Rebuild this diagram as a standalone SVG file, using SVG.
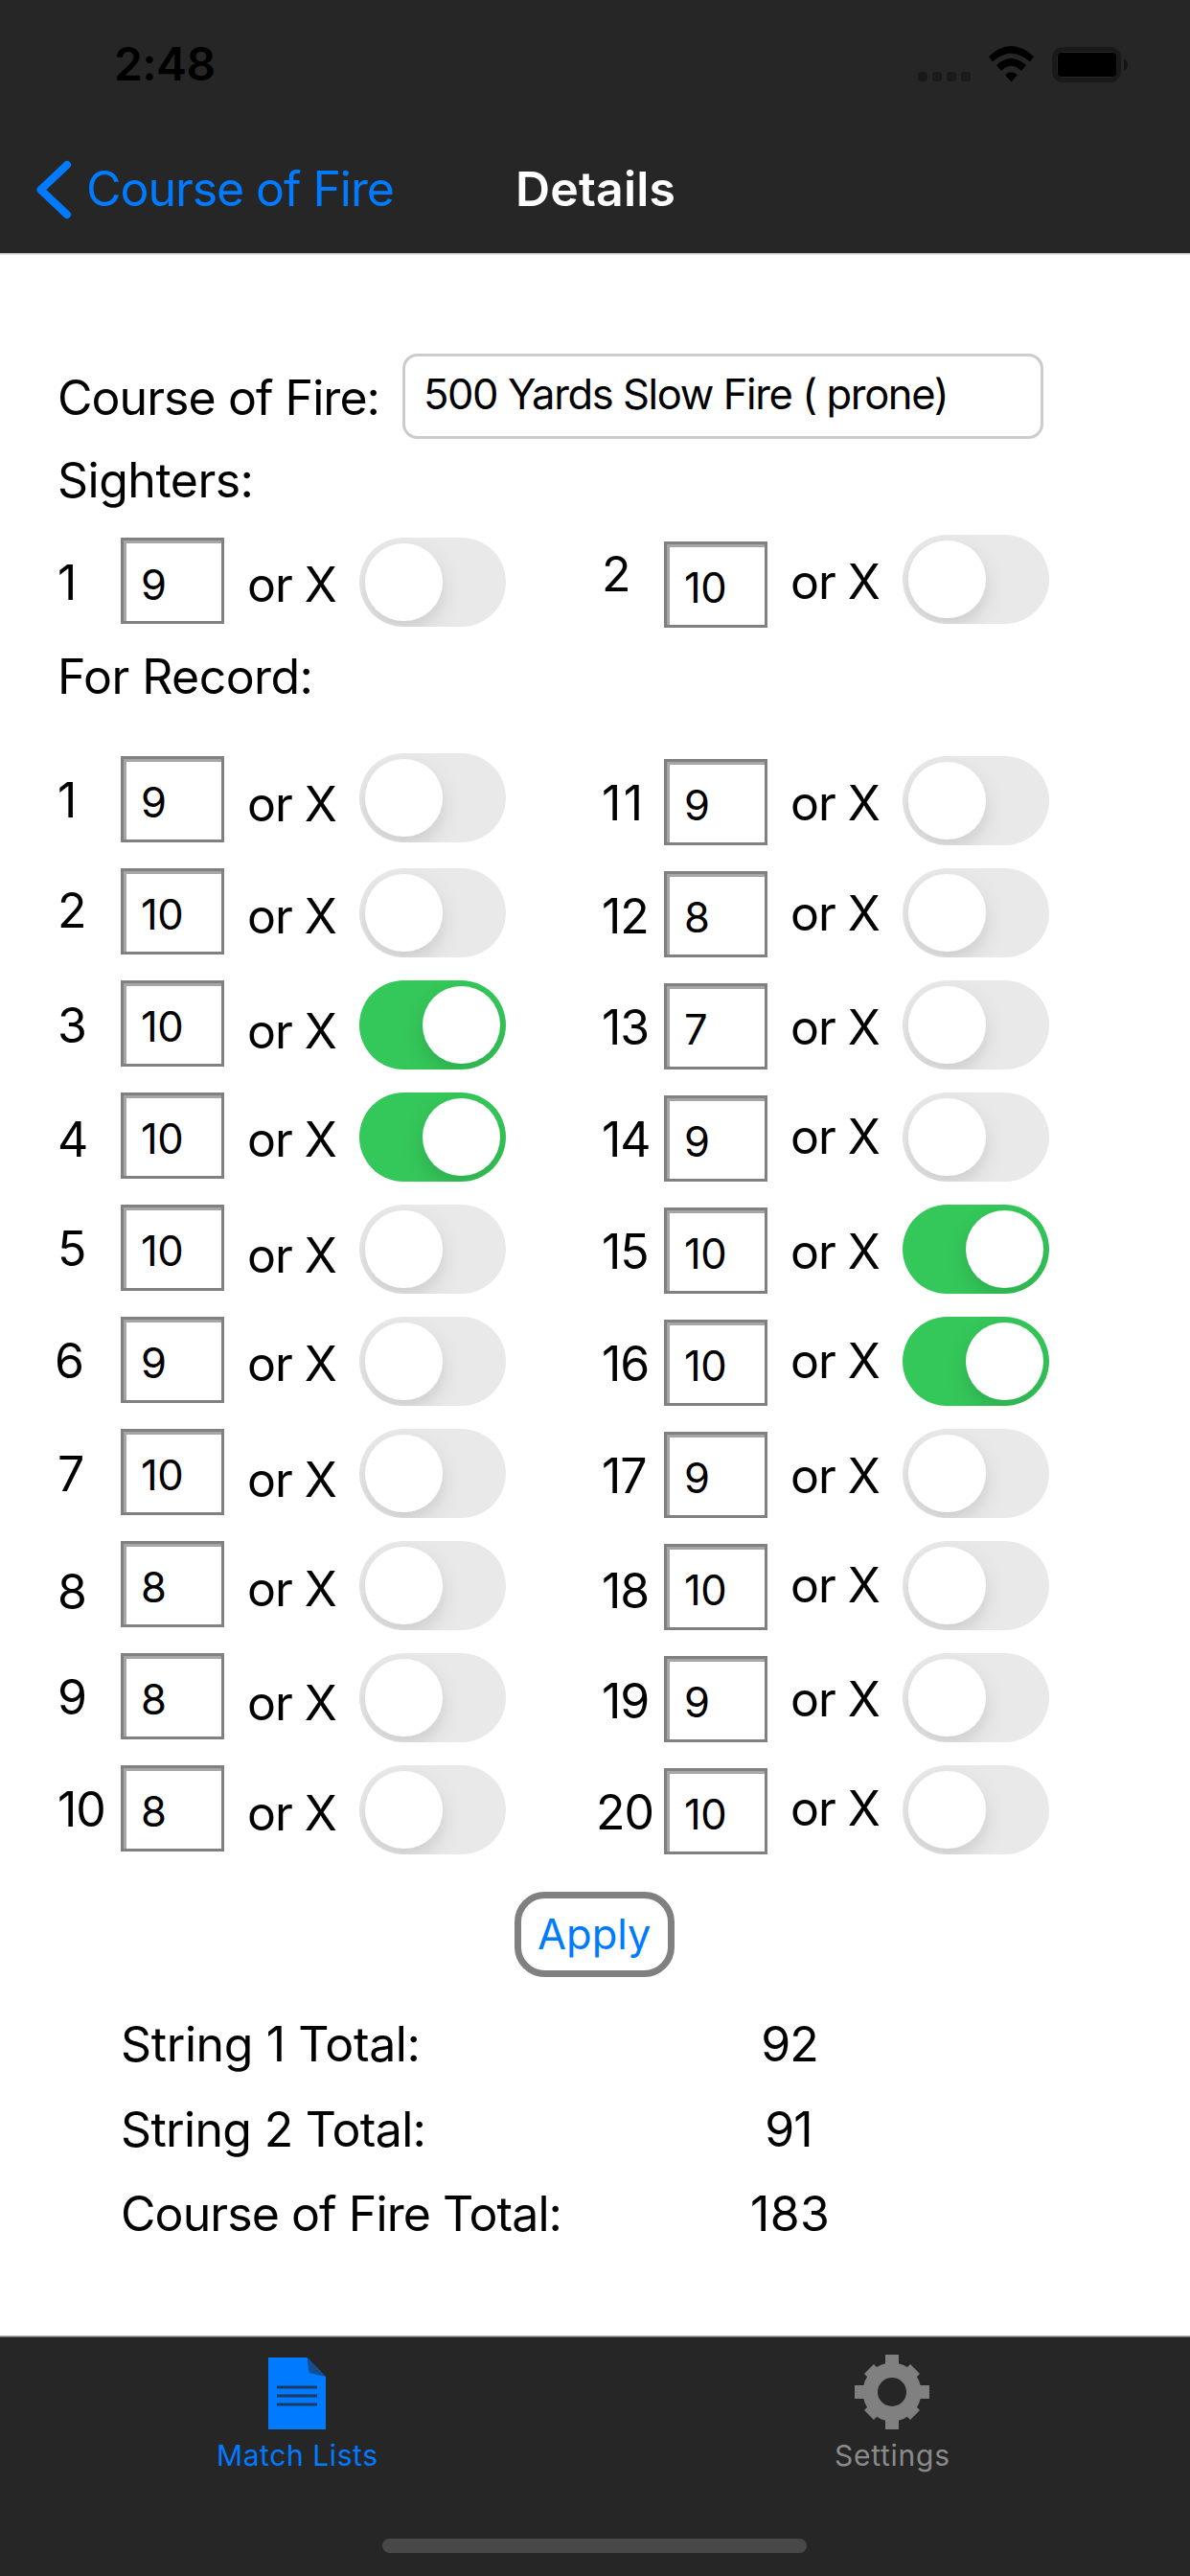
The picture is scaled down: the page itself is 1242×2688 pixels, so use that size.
<svg xmlns="http://www.w3.org/2000/svg" xmlns:xlink="http://www.w3.org/1999/xlink" width="1242" height="2688" viewBox="0 0 1242 2688">
<style>
text{font-family:Inter,"Liberation Sans",sans-serif;fill:#000}
.bar{fill:#262626}
.t{font-size:50px;letter-spacing:-1px}
.v{font-size:43.5px;letter-spacing:-.5px}
.blue{fill:#007aff}
.tab{font-size:30px;text-anchor:middle}
.m{text-anchor:middle}
.off{fill:#e9e9e9}
.on{fill:#34c759}
.knob{fill:#fff;filter:url(#ks)}
</style>
<defs>
<filter id="ks" x="-40%" y="-40%" width="180%" height="180%"><feDropShadow dx="0" dy="9" stdDeviation="10" flood-color="#000" flood-opacity=".13"/></filter>
<clipPath id="tc"><rect width="153" height="93" rx="46.5"/></clipPath>
<g id="frame">
<rect width="108" height="90" fill="#808080"/>
<path d="M3 3H105V6H6V87H3Z" fill="#a6a6a6"/>
<rect x="6" y="6" width="99" height="81" fill="#fff"/>
</g>
<g id="sw0"><rect class="off" width="153" height="93" rx="46.5"/><g clip-path="url(#tc)"><circle class="knob" cx="46.5" cy="46.5" r="40.5"/></g></g>
<g id="sw1"><rect class="on" width="153" height="93" rx="46.5"/><g clip-path="url(#tc)"><circle class="knob" cx="106.5" cy="46.5" r="40.5"/></g></g>
</defs>
<rect width="1242" height="2688" fill="#fff"/>
<g id="nav-bar">
<rect class="bar" width="1242" height="264"/>
<rect y="264" width="1242" height="1.5" fill="#bdbdbd"/>
<text x="119" y="84" font-size="48" font-weight="600" letter-spacing="-.6">2:48</text>
<g fill="#1a1a1a"><rect x="958" y="75" width="10" height="10" rx="3.5"/><rect x="973" y="75" width="10" height="10" rx="3.5"/><rect x="988" y="75" width="10" height="10" rx="3.5"/><rect x="1003" y="75" width="10" height="10" rx="3.5"/></g>
<g id="wifi" fill="#000">
<path d="M1032 59Q1055 37 1079 59L1075 64.500Q1055 47 1036 64.500Z"/>
<path d="M1040 68Q1055 54 1071 68L1066 74Q1055 63.500 1045 74Z"/>
<path d="M1049 78Q1055 72.500 1062 78L1055.500 85.500Z"/>
</g>
<g id="battery"><rect x="1100.500" y="51.500" width="67" height="32" rx="9" fill="none" stroke="#191919" stroke-width="5"/><rect x="1104" y="55" width="61" height="25" rx="4" fill="#000"/><path d="M1173 61Q1181 67.500 1173 74Z" fill="#141414"/></g>
<path d="M70 172L42.500 198L70 224" fill="none" stroke="#007aff" stroke-width="8" stroke-linecap="round" stroke-linejoin="round"/>
<text class="t blue" x="90" y="215" textLength="321">Course of Fire</text>
<text class="t" x="538" y="215" font-weight="600" style="fill:#fff" textLength="166">Details</text>
</g>
<g id="header">
<text class="t" x="60" y="433" textLength="336">Course of Fire:</text>
<rect x="421.500" y="370.500" width="666" height="86" rx="14" fill="#fff" stroke="#cccccc" stroke-width="3"/>
<text class="v" x="442" y="427" textLength="548">500 Yards Slow Fire ( prone)</text>
<text class="t" x="60" y="519" textLength="204">Sighters:</text>
<text class="t" x="60" y="724" textLength="266">For Record:</text>
</g>
<g id="sighter-1"><text class="t" x="60" y="626">1</text><use href="#frame" x="126" y="561"/><text class="v" x="147" y="626">9</text><text class="t" x="258" y="628">or X</text><use href="#sw0" x="375" y="561"/></g>
<g id="sighter-2"><text class="t" x="628" y="617">2</text><use href="#frame" x="693" y="565"/><text class="v" x="714" y="629">10</text><text class="t" x="825" y="625">or X</text><use href="#sw0" x="942" y="558"/></g>
<g id="shot-1"><text class="t" x="60" y="853">1</text><use href="#frame" x="126" y="789"/><text class="v" x="147" y="853">9</text><text class="t" x="258" y="857">or X</text><use href="#sw0" x="375" y="786"/></g>
<g id="shot-2"><text class="t" x="60" y="968">2</text><use href="#frame" x="126" y="906"/><text class="v" x="147" y="970">10</text><text class="t" x="258" y="974">or X</text><use href="#sw0" x="375" y="906"/></g>
<g id="shot-3"><text class="t" x="60" y="1088">3</text><use href="#frame" x="126" y="1023"/><text class="v" x="147" y="1087">10</text><text class="t" x="258" y="1094">or X</text><use href="#sw1" x="375" y="1023"/></g>
<g id="shot-4"><text class="t" x="60" y="1207">4</text><use href="#frame" x="126" y="1140"/><text class="v" x="147" y="1204">10</text><text class="t" x="258" y="1207">or X</text><use href="#sw1" x="375" y="1140"/></g>
<g id="shot-5"><text class="t" x="60" y="1321">5</text><use href="#frame" x="126" y="1257"/><text class="v" x="147" y="1321">10</text><text class="t" x="258" y="1328">or X</text><use href="#sw0" x="375" y="1257"/></g>
<g id="shot-6"><text class="t" x="57" y="1438">6</text><use href="#frame" x="126" y="1374"/><text class="v" x="147" y="1438">9</text><text class="t" x="258" y="1441">or X</text><use href="#sw0" x="375" y="1374"/></g>
<g id="shot-7"><text class="t" x="60" y="1556">7</text><use href="#frame" x="126" y="1491"/><text class="v" x="147" y="1555">10</text><text class="t" x="258" y="1562">or X</text><use href="#sw0" x="375" y="1491"/></g>
<g id="shot-8"><text class="t" x="60" y="1679">8</text><use href="#frame" x="126" y="1608"/><text class="v" x="147" y="1672">8</text><text class="t" x="258" y="1676">or X</text><use href="#sw0" x="375" y="1608"/></g>
<g id="shot-9"><text class="t" x="60" y="1789">9</text><use href="#frame" x="126" y="1725"/><text class="v" x="147" y="1789">8</text><text class="t" x="258" y="1795">or X</text><use href="#sw0" x="375" y="1725"/></g>
<g id="shot-10"><text class="t" x="60" y="1906">10</text><use href="#frame" x="126" y="1842"/><text class="v" x="147" y="1906">8</text><text class="t" x="258" y="1910">or X</text><use href="#sw0" x="375" y="1842"/></g>
<g id="shot-11"><text class="t" x="628" y="856" textLength="42">11</text><use href="#frame" x="693" y="792"/><text class="v" x="714" y="856">9</text><text class="t" x="825" y="856">or X</text><use href="#sw0" x="942" y="789"/></g>
<g id="shot-12"><text class="t" x="628" y="974">12</text><use href="#frame" x="693" y="909"/><text class="v" x="714" y="973">8</text><text class="t" x="825" y="971">or X</text><use href="#sw0" x="942" y="906"/></g>
<g id="shot-13"><text class="t" x="628" y="1090">13</text><use href="#frame" x="693" y="1026"/><text class="v" x="714" y="1090">7</text><text class="t" x="825" y="1090">or X</text><use href="#sw0" x="942" y="1023"/></g>
<g id="shot-14"><text class="t" x="628" y="1207">14</text><use href="#frame" x="693" y="1143"/><text class="v" x="714" y="1207">9</text><text class="t" x="825" y="1204">or X</text><use href="#sw0" x="942" y="1140"/></g>
<g id="shot-15"><text class="t" x="628" y="1324">15</text><use href="#frame" x="693" y="1260"/><text class="v" x="714" y="1324">10</text><text class="t" x="825" y="1324">or X</text><use href="#sw1" x="942" y="1257"/></g>
<g id="shot-16"><text class="t" x="628" y="1441">16</text><use href="#frame" x="693" y="1377"/><text class="v" x="714" y="1441">10</text><text class="t" x="825" y="1438">or X</text><use href="#sw1" x="942" y="1374"/></g>
<g id="shot-17"><text class="t" x="628" y="1558">17</text><use href="#frame" x="693" y="1494"/><text class="v" x="714" y="1558">9</text><text class="t" x="825" y="1558">or X</text><use href="#sw0" x="942" y="1491"/></g>
<g id="shot-18"><text class="t" x="628" y="1678">18</text><use href="#frame" x="693" y="1611"/><text class="v" x="714" y="1675">10</text><text class="t" x="825" y="1672">or X</text><use href="#sw0" x="942" y="1608"/></g>
<g id="shot-19"><text class="t" x="628" y="1793">19</text><use href="#frame" x="693" y="1728"/><text class="v" x="714" y="1792">9</text><text class="t" x="825" y="1791">or X</text><use href="#sw0" x="942" y="1725"/></g>
<g id="shot-20"><text class="t" x="622" y="1909">20</text><use href="#frame" x="693" y="1845"/><text class="v" x="714" y="1909">10</text><text class="t" x="825" y="1905">or X</text><use href="#sw0" x="942" y="1842"/></g>
<g id="apply"><rect x="540.500" y="1977.500" width="160" height="82" rx="28" fill="#fff" stroke="#808080" stroke-width="7"/><text class="v blue m" x="620" y="2034" font-size="44.5" textLength="118">Apply</text></g>
<g id="totals">
<text class="t" x="126" y="2151" textLength="312">String 1 Total:</text><text class="t m" x="824" y="2151">92</text>
<text class="t" x="126" y="2240" textLength="318">String 2 Total:</text><text class="t m" x="823" y="2240">91</text>
<text class="t" x="126" y="2328" textLength="460">Course of Fire Total:</text><text class="t m" x="824" y="2328" textLength="82">183</text>
</g>
<g id="tab-bar">
<rect class="bar" y="2438" width="1242" height="250"/>
<rect y="2437" width="1242" height="1.5" fill="#b5b5b5"/>
<g id="tab-match">
<path d="M280 2460H320L340 2480V2535H280Z" fill="#007aff"/>
<path d="M321 2460L340 2480L323 2476Q321 2470 321 2460Z" fill="#14508f"/>
<path d="M289 2491H331M289 2500H331M289 2509H331" stroke="#1c3b63" stroke-width="3" fill="none"/>
<text class="tab blue" x="310" y="2573" textLength="168">Match Lists</text>
</g>
<g id="tab-settings">
<g fill="#808080"><circle cx="931" cy="2496" r="30.500"/>
<g id="teeth"><rect x="924" y="2457" width="14" height="78"/><rect x="892" y="2489" width="78" height="14"/><rect x="924" y="2462" width="14" height="68" transform="rotate(45 931 2496)"/><rect x="924" y="2462" width="14" height="68" transform="rotate(-45 931 2496)"/></g></g>
<circle cx="931" cy="2496" r="15" fill="#262626"/>
<text class="tab" x="931" y="2573" style="fill:#8a8a8a" textLength="120">Settings</text>
</g>
<rect x="399" y="2649" width="443" height="15" rx="7.500" fill="#484848"/>
</g>
</svg>
